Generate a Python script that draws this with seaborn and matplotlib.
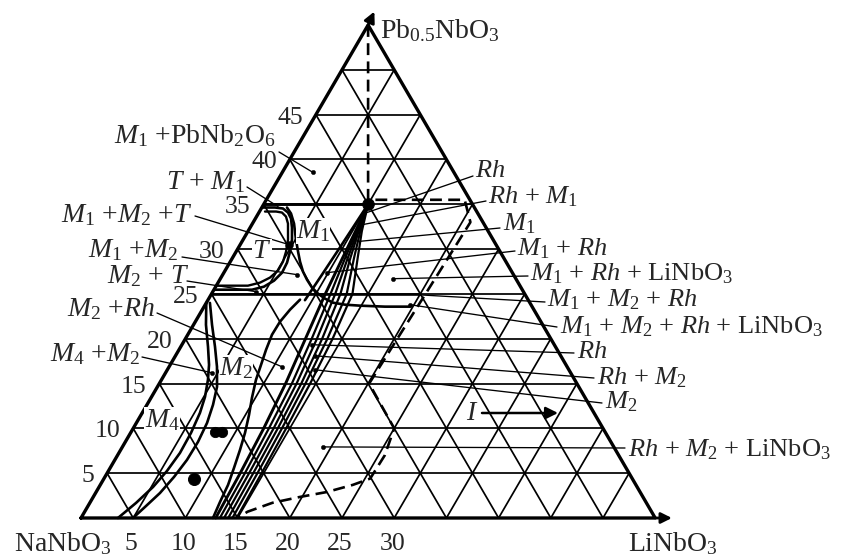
import numpy as np
import pandas as pd
import matplotlib
matplotlib.use("Agg")
import matplotlib.pyplot as plt
import seaborn as sns

sns.set_theme(style="white")
plt.rcParams["font.family"] = ["Liberation Serif", "DejaVu Serif"]
plt.rcParams["mathtext.fontset"] = "custom"
plt.rcParams["mathtext.rm"] = "Liberation Serif"
plt.rcParams["mathtext.it"] = "Liberation Serif:italic"
plt.rcParams["mathtext.bf"] = "Liberation Serif:bold"
plt.rcParams["lines.dashed_pattern"] = [4.5, 2.4]

# ---------------- data (compositions: LiNbO3 %, Pb0.5NbO3 %) ----------------
side_total = 55
grid_levels = [5, 10, 15, 20, 25, 30, 35, 40, 45, 50]
left_ticks = [5, 10, 15, 20, 25, 30, 35, 40, 45]
bottom_ticks = [5, 10, 15, 20, 25, 30]

# M4 / M2 boundary (double curve)
m4_outer_li = [0.0, 1.19, 2.61, 3.72, 4.45, 5.12, 5.53, 5.79, 5.85, 5.61, 5.17, 4.43, 3.54]
m4_outer_pb = [24.0, 21.56, 19.11, 17.09, 15.42, 13.52, 11.73, 9.50, 7.26, 5.25, 3.46, 1.68, 0.0]
m4_inner_li = [0.35, 1.77, 3.28, 4.59, 5.71, 6.33, 6.77, 6.96, 6.91, 6.62, 6.17, 5.56, 4.98]
m4_inner_pb = [24.0, 21.56, 19.11, 16.87, 14.64, 12.63, 10.61, 8.49, 6.48, 4.58, 2.79, 1.34, 0.0]

# T region boundary (double curve)
t_outer_li = [0.11, 1.26, 2.08, 2.79, 3.41, 4.01, 4.68, 5.16, 5.49, 5.57, 5.25, 4.62, 3.65, 2.02, 0.10]
t_outer_pb = [34.64, 34.64, 34.53, 34.08, 33.41, 32.40, 31.06, 29.72, 28.49, 27.37, 26.48, 25.81, 25.47, 25.47, 25.47]
t_inner_li = [0.53, 1.59, 2.21, 2.82, 3.40, 4.30, 4.78, 5.05, 5.07, 4.69, 4.02, 3.03, 1.50, 0.0]
t_inner_pb = [34.19, 34.19, 34.08, 33.63, 32.85, 31.06, 29.72, 28.60, 27.60, 26.82, 26.26, 25.92, 25.92, 25.92]

# M1 / M2 boundary
m1_li = [2.41, 3.13, 3.98, 5.06, 5.93, 6.68, 7.52, 8.35, 9.28, 10.19, 11.14, 12.13, 13.39, 14.88, 17.33, 19.72]
m1_pb = [34.64, 33.97, 32.85, 31.06, 29.72, 28.60, 27.49, 26.59, 25.70, 25.03, 24.47, 24.02, 23.80, 23.69, 23.58, 23.58]

# straight boundaries
top_line_li = [0.0, 10.0]
top_line_pb = [35.0, 35.0]
mid_line_li = [0.0, 20.0]
mid_line_pb = [25.0, 25.0]
m1rh_li = [10.0, 9.7, 9.5, 9.3]
m1rh_pb = [35.0, 30.0, 27.0, 24.3]

# M2 / (M2+Rh) boundary
m2_li = [8.80, 8.40, 8.11, 8.07, 8.34, 8.70, 9.05, 9.67, 10.34, 10.96, 11.43, 11.86, 12.24, 12.42, 12.64]
m2_pb = [24.36, 23.24, 21.90, 20.45, 18.77, 17.09, 15.42, 13.41, 11.51, 9.50, 7.60, 5.59, 3.69, 1.79, 0.0]

# bundle of lines from the Rh point down to the base
bundle_pb = [35, 32, 29, 25, 20, 15, 10, 5, 0]
bundle_li = [
    [10.0, 10.3, 10.55, 10.9, 11.5, 12.1, 12.5, 12.75, 12.9],
    [10.0, 10.4, 10.8, 11.4, 12.1, 12.7, 13.0, 13.2, 13.3],
    [10.0, 10.5, 11.05, 11.85, 12.6, 13.15, 13.45, 13.6, 13.7],
    [10.0, 10.6, 11.3, 12.35, 13.1, 13.6, 13.85, 14.0, 14.1],
    [10.0, 10.75, 11.65, 12.95, 13.6, 14.0, 14.25, 14.4, 14.5],
    [10.0, 10.9, 12.0, 13.5, 14.1, 14.45, 14.65, 14.8, 14.9],
]

# dashed line
dash_li = [0.0, 9.75, 19.0, 20.8, 20.5, 20.1, 25.0, 25.6, 25.5, 24.2, 22.1, 19.8, 17.5, 15.6, 15.0]
dash_pb = [55.0, 35.5, 35.5, 33.0, 25.0, 15.0, 10.0, 7.0, 4.4, 3.7, 2.9, 2.35, 1.7, 0.7, 0.0]

# points
rh_point = (10.0, 35.0)
m1m2t_point = (4.67, 30.5)
pair_li = [7.99, 8.66]
pair_pb = [9.6, 9.6]
single_li = [8.64]
single_pb = [4.36]

# left labels: text, leader end (composition), dot?
left_labels = ["$M_1$ +PbNb$_2$O$_6$", "$T$ + $M_1$", "$M_1$ +$M_2$ +$T$", "$M_1$ +$M_2$",
               "$M_2$ + $T$", "$M_2$ +$Rh$", "$M_4$ +$M_2$"]
left_end_li = [2.95, 1.5, 4.67, 7.11, 4.14, 10.82, 4.45]
left_end_pb = [38.55, 34.75, 30.5, 27.15, 25.25, 16.87, 16.2]
left_dot = [True, False, False, True, True, True, True]

right_labels = ["$Rh$", "$Rh$ + $M_1$", "$M_1$", "$M_1$ + $Rh$", "$M_1$ + $Rh$ + LiNbO$_3$",
                "$M_1$ + $M_2$ + $Rh$", "$M_1$ + $M_2$ + $Rh$ + LiNbO$_3$", "$Rh$",
                "$Rh$ + $M_2$", "$M_2$", "$Rh$ + $M_2$ + LiNbO$_3$"]
right_end_li = [10.35, 10.64, 11.02, 9.88, 16.54, 19.9, 19.6, 12.46, 13.36, 14.14, 19.2]
right_end_pb = [34.08, 32.74, 30.84, 27.37, 26.7, 24.9, 23.8, 19.33, 18.1, 16.54, 7.93]
right_dot = [False, False, False, True, True, False, True, True, True, True, True]

inner_labels = ["$T$", "$M_1$", "$M_2$", "$M_4$"]

# ---------------- layout (pixels) ----------------
OX, OY, SX, SY = 81.0, 518.0, 10.44, 10.35
W, H = 842, 559
left_text_xy = [(276, 136), (245, 182), (193, 215), (178, 250), (189, 276), (155, 309), (140, 354)]
left_lead_xy = [(279, 152), (247, 187), (195, 216), (182, 257), (187, 281), (157, 313), (142, 357)]
right_text_xy = [(475, 171), (488, 197), (503, 224), (517, 249), (530, 274), (547, 300),
                 (560, 327), (577, 352), (597, 378), (605, 402), (628, 450)]
right_lead_xy = [(473, 176), (486, 201), (500, 228), (515, 251), (528, 276), (545, 302),
                 (557, 327), (574, 353), (594, 378), (602, 403), (625, 448)]
inner_xy = [(262, 252), (313, 231), (236, 368), (162, 420)]

R3 = np.sqrt(3) / 2


def tern(li, pb):
    li = np.asarray(li, float)
    pb = np.asarray(pb, float)
    return li + pb / 2.0, pb * R3


def P(x, y):
    return ((x - OX) / SX, (OY - y) / SY)


fig = plt.figure(figsize=(W / 100, H / 100), dpi=100)
ax = fig.add_axes([0, 0, 1, 1])
ax.set_xlim(-OX / SX, (W - OX) / SX)
ax.set_ylim((OY - H) / SY, OY / SY)
ax.axis("off")


def draw(li, pb, lw, ls="-", z=3):
    X, Y = tern(li, pb)
    df = pd.DataFrame({"X": X, "Y": Y})
    sns.lineplot(data=df, x="X", y="Y", sort=False, estimator=None, color="black",
                 lw=lw, linestyle=ls, ax=ax, legend=False, zorder=z)


# grid
rows = []
sid = 0
for k in grid_levels:
    for (l0, p0, l1, p1) in [(0, k, side_total - k, k), (k, 0, k, side_total - k), (k, 0, 0, k)]:
        X, Y = tern([l0, l1], [p0, p1])
        rows += [(sid, X[0], Y[0]), (sid, X[1], Y[1])]
        sid += 1
grid_df = pd.DataFrame(rows, columns=["seg", "X", "Y"])
sns.lineplot(data=grid_df, x="X", y="Y", units="seg", estimator=None, sort=False,
             color="black", lw=1.25, ax=ax, legend=False, zorder=1)

# border
draw([0, side_total, 0, 0], [0, 0, side_total, 0], 2.4, z=4)

# boundaries
draw(m4_outer_li, m4_outer_pb, 1.9)
draw(m4_inner_li, m4_inner_pb, 1.9)
draw(t_outer_li, t_outer_pb, 1.9)
draw(t_inner_li, t_inner_pb, 1.7)
draw(m1_li, m1_pb, 1.9)
draw(top_line_li, top_line_pb, 2.1)
draw(mid_line_li, mid_line_pb, 1.9)
draw(m1rh_li, m1rh_pb, 1.9)
draw(m2_li, m2_pb, 1.9)
for i, bl in enumerate(bundle_li):
    draw(bl, bundle_pb, 2.1 if i == 0 else 1.6)
draw(dash_li, dash_pb, 1.9, ls="--")

# leaders
lead_rows = []
for j, (xy, el, ep) in enumerate(zip(left_lead_xy + right_lead_xy, left_end_li + right_end_li,
                                     left_end_pb + right_end_pb)):
    X0, Y0 = P(*xy)
    X1, Y1 = tern(el, ep)
    lead_rows += [(j, X0, Y0), (j, float(X1), float(Y1))]
lead_df = pd.DataFrame(lead_rows, columns=["seg", "X", "Y"])
sns.lineplot(data=lead_df, x="X", y="Y", units="seg", estimator=None, sort=False,
             color="black", lw=0.95, ax=ax, legend=False, zorder=2)

# dots
dl = [l for l, d in zip(left_end_li + right_end_li, left_dot + right_dot) if d]
dp = [p for p, d in zip(left_end_pb + right_end_pb, left_dot + right_dot) if d]
X, Y = tern(dl, dp)
sns.scatterplot(x=X, y=Y, s=10, color="black", edgecolor="black", ax=ax, legend=False, zorder=6)
X, Y = tern([rh_point[0]], [rh_point[1]])
sns.scatterplot(x=X, y=Y, s=70, color="black", edgecolor="black", ax=ax, legend=False, zorder=6)
X, Y = tern([m1m2t_point[0]], [m1m2t_point[1]])
sns.scatterplot(x=X, y=Y, s=30, color="black", edgecolor="black", ax=ax, legend=False, zorder=6)
X, Y = tern(pair_li, pair_pb)
sns.scatterplot(x=X, y=Y, s=55, color="black", edgecolor="black", ax=ax, legend=False, zorder=6)
X, Y = tern(single_li, single_pb)
sns.scatterplot(x=X, y=Y, s=75, color="black", edgecolor="black", ax=ax, legend=False, zorder=6)

# arrows at vertices
apx, apy = tern([0], [side_total])
ax.annotate("", xy=(apx[0] + 0.6, apy[0] + 1.3), xytext=(apx[0], apy[0]),
            arrowprops=dict(arrowstyle="-|>", color="black", lw=2.0, mutation_scale=16,
                            shrinkA=0, shrinkB=0), zorder=5)
brx, bry = tern([side_total], [0])
ax.annotate("", xy=(brx[0] + 1.6, bry[0]), xytext=(brx[0], bry[0]),
            arrowprops=dict(arrowstyle="-|>", color="black", lw=2.0, mutation_scale=16,
                            shrinkA=0, shrinkB=0), zorder=5)
ax.annotate("", xy=P(558, 413), xytext=P(482, 413),
            arrowprops=dict(arrowstyle="-|>", color="black", lw=1.8, mutation_scale=18,
                            shrinkA=0, shrinkB=0), zorder=5)

FS = 20
FR = 19
FT = 18.5
# tick labels
for b in left_ticks:
    X, Y = tern([0], [b])
    ax.annotate(str(b), xy=(X[0], Y[0]), xytext=(-13, -3), textcoords="offset pixels",
                ha="right", va="center", fontsize=FT, zorder=7)
for a in bottom_ticks:
    X, Y = tern([a], [0])
    ax.annotate(str(a), xy=(X[0], Y[0]), xytext=(-2, -26), textcoords="offset pixels",
                ha="center", va="center", fontsize=FT, zorder=7)

ax.text(*P(63, 544), "NaNbO$_3$", ha="center", va="center", fontsize=FS)
ax.text(*P(628, 544), "LiNbO$_3$", ha="left", va="center", fontsize=FS)
ax.text(*P(380, 31), "Pb$_{0.5}$NbO$_3$", ha="left", va="center", fontsize=FS)

for t, xy in zip(left_labels, left_text_xy):
    ax.text(*P(*xy), t, ha="right", va="center", fontsize=FS, zorder=7)
for t, xy in zip(right_labels, right_text_xy):
    ax.text(*P(*xy), t, ha="left", va="center", fontsize=FR, zorder=7)
for t, xy in zip(inner_labels, inner_xy):
    ax.text(*P(*xy), t, ha="center", va="center", fontsize=FS, zorder=7,
            bbox=dict(facecolor="white", edgecolor="none", pad=0.3))
ax.text(*P(472, 413), "$I$", ha="center", va="center", fontsize=FS, zorder=7)

fig.savefig("out.png", dpi=100, facecolor="white")
